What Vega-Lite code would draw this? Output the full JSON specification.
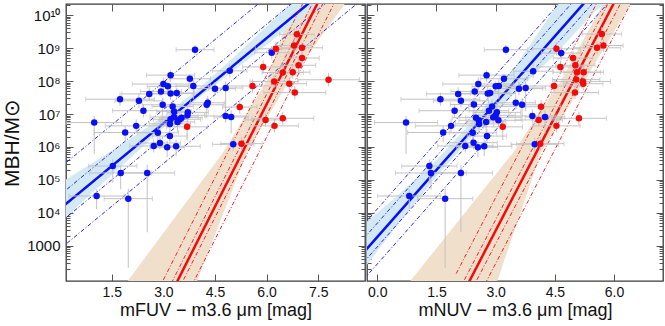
{
"$schema": "https://vega.github.io/schema/vega-lite/v6.json",
"padding": {"left": 0, "top": 2, "right": 0, "bottom": 0},
"spacing": 2,
"bounds": "flush",
"config": {
  "view": {"stroke": "#3a3a3a", "strokeWidth": 1.3},
  "font": "Liberation Sans",
  "axis": {"domain": false, "grid": false, "labelFont": "Liberation Sans", "titleFont": "Liberation Sans", "labelColor": "#111", "titleColor": "#111", "tickColor": "#555", "titleFontWeight": "normal"}
},
"resolve": {"scale": {"x": "independent", "y": "independent"}},
"datasets": {
"lp": [
{"c":"b","x":3.92,"m":8.95,"xl":3.37,"xh":4.47,"ml":8.80,"mh":9.10},
{"c":"b","x":4.93,"m":8.31,"xl":4.43,"xh":5.43,"ml":8.11,"mh":8.51},
{"c":"b","x":3.21,"m":8.18,"xl":2.51,"xh":3.91,"ml":7.98,"mh":8.33},
{"c":"b","x":3.77,"m":8.07,"xl":3.17,"xh":4.37,"ml":7.92,"mh":8.22},
{"c":"b","x":3.00,"m":7.91,"xl":2.10,"xh":3.90,"ml":7.71,"mh":8.11},
{"c":"b","x":3.13,"m":7.84,"xl":2.53,"xh":3.73,"ml":7.69,"mh":7.99},
{"c":"b","x":3.87,"m":7.85,"xl":3.37,"xh":4.37,"ml":7.45,"mh":8.05},
{"c":"b","x":2.59,"m":7.61,"xl":1.79,"xh":3.39,"ml":7.41,"mh":7.81},
{"c":"b","x":2.93,"m":7.68,"xl":2.33,"xh":3.53,"ml":7.53,"mh":7.83},
{"c":"b","x":3.21,"m":7.62,"xl":2.51,"xh":3.91,"ml":7.42,"mh":7.82},
{"c":"b","x":3.39,"m":7.64,"xl":2.89,"xh":3.89,"ml":7.49,"mh":7.79},
{"c":"b","x":4.50,"m":7.77,"xl":3.90,"xh":5.10,"ml":7.57,"mh":7.97},
{"c":"b","x":4.81,"m":7.79,"xl":4.31,"xh":5.31,"ml":7.09,"mh":7.99},
{"c":"b","x":1.74,"m":7.45,"xl":0.74,"xh":2.74,"ml":7.25,"mh":7.65},
{"c":"b","x":2.29,"m":7.40,"xl":1.59,"xh":2.99,"ml":7.20,"mh":7.60},
{"c":"b","x":2.98,"m":7.28,"xl":2.38,"xh":3.58,"ml":6.78,"mh":7.48},
{"c":"b","x":3.27,"m":7.23,"xl":2.67,"xh":3.87,"ml":7.03,"mh":7.43},
{"c":"b","x":4.29,"m":7.34,"xl":3.79,"xh":4.79,"ml":7.14,"mh":7.54},
{"c":"b","x":4.26,"m":7.28,"xl":3.76,"xh":4.76,"ml":6.88,"mh":7.48},
{"c":"b","x":2.42,"m":7.10,"xl":1.52,"xh":3.32,"ml":6.90,"mh":7.30},
{"c":"b","x":3.31,"m":7.08,"xl":2.81,"xh":3.81,"ml":6.88,"mh":7.28},
{"c":"b","x":3.71,"m":7.05,"xl":3.11,"xh":4.31,"ml":6.85,"mh":7.25},
{"c":"b","x":3.70,"m":6.96,"xl":3.20,"xh":4.20,"ml":6.76,"mh":7.16},
{"c":"b","x":3.31,"m":6.91,"xl":2.61,"xh":4.01,"ml":6.61,"mh":7.11},
{"c":"b","x":3.53,"m":6.89,"xl":2.93,"xh":4.13,"ml":6.69,"mh":7.09},
{"c":"b","x":3.21,"m":6.84,"xl":2.71,"xh":3.71,"ml":6.64,"mh":7.04},
{"c":"b","x":3.48,"m":6.84,"xl":2.88,"xh":4.08,"ml":6.64,"mh":7.04},
{"c":"b","x":3.41,"m":6.76,"xl":2.91,"xh":3.91,"ml":6.46,"mh":6.96},
{"c":"b","x":4.81,"m":6.94,"xl":4.21,"xh":5.41,"ml":6.74,"mh":7.14},
{"c":"b","x":4.97,"m":6.91,"xl":4.47,"xh":5.47,"ml":6.41,"mh":7.11},
{"c":"b","x":0.99,"m":6.74,"xl":0.19,"xh":1.79,"ml":5.79,"mh":6.94},
{"c":"b","x":2.21,"m":6.64,"xl":1.31,"xh":3.11,"ml":6.44,"mh":6.84},
{"c":"b","x":3.19,"m":6.70,"xl":2.59,"xh":3.79,"ml":6.50,"mh":6.90},
{"c":"b","x":1.89,"m":6.44,"xl":0.99,"xh":2.79,"ml":6.14,"mh":6.64},
{"c":"b","x":2.84,"m":6.43,"xl":2.24,"xh":3.44,"ml":6.03,"mh":6.63},
{"c":"b","x":3.19,"m":6.33,"xl":2.69,"xh":3.69,"ml":6.13,"mh":6.53},
{"c":"b","x":2.72,"m":6.03,"xl":2.02,"xh":3.42,"ml":5.83,"mh":6.23},
{"c":"b","x":2.90,"m":6.12,"xl":2.30,"xh":3.50,"ml":5.92,"mh":6.32},
{"c":"b","x":3.11,"m":5.99,"xl":2.61,"xh":3.61,"ml":5.69,"mh":6.19},
{"c":"b","x":3.37,"m":6.02,"xl":2.67,"xh":4.07,"ml":5.72,"mh":6.22},
{"c":"b","x":5.03,"m":6.08,"xl":4.43,"xh":5.63,"ml":5.88,"mh":6.28},
{"c":"b","x":1.53,"m":5.42,"xl":0.83,"xh":2.23,"ml":4.92,"mh":5.62},
{"c":"b","x":1.76,"m":5.21,"xl":0.86,"xh":2.66,"ml":4.71,"mh":5.41},
{"c":"b","x":2.53,"m":5.21,"xl":1.73,"xh":3.33,"ml":3.41,"mh":5.46},
{"c":"b","x":1.06,"m":4.51,"xl":0.26,"xh":1.86,"ml":4.11,"mh":4.71},
{"c":"b","x":1.98,"m":4.43,"xl":1.28,"xh":2.68,"ml":2.33,"mh":4.73},
{"c":"b","x":6.15,"m":8.86,"xl":5.65,"xh":6.65,"ml":8.66,"mh":9.06},
{"c":"r","x":6.88,"m":9.42,"xl":6.38,"xh":7.38,"ml":9.22,"mh":9.62},
{"c":"r","x":6.27,"m":8.98,"xl":5.67,"xh":6.87,"ml":8.78,"mh":9.18},
{"c":"r","x":6.80,"m":9.08,"xl":6.30,"xh":7.30,"ml":8.88,"mh":9.28},
{"c":"r","x":7.03,"m":9.01,"xl":6.43,"xh":7.63,"ml":8.81,"mh":9.21},
{"c":"r","x":7.03,"m":8.70,"xl":6.53,"xh":7.53,"ml":8.50,"mh":8.90},
{"c":"r","x":6.93,"m":8.48,"xl":6.43,"xh":7.43,"ml":8.28,"mh":8.68},
{"c":"r","x":5.90,"m":8.43,"xl":5.30,"xh":6.50,"ml":8.23,"mh":8.63},
{"c":"r","x":6.47,"m":8.26,"xl":5.87,"xh":7.07,"ml":8.06,"mh":8.46},
{"c":"r","x":6.76,"m":8.27,"xl":6.26,"xh":7.26,"ml":8.07,"mh":8.47},
{"c":"r","x":6.22,"m":7.99,"xl":5.52,"xh":6.92,"ml":7.79,"mh":8.19},
{"c":"r","x":6.66,"m":7.92,"xl":6.16,"xh":7.16,"ml":7.72,"mh":8.12},
{"c":"r","x":7.80,"m":8.04,"xl":6.90,"xh":8.70,"ml":7.84,"mh":8.24},
{"c":"r","x":5.59,"m":7.85,"xl":4.89,"xh":6.29,"ml":7.65,"mh":8.05},
{"c":"r","x":6.82,"m":7.65,"xl":5.92,"xh":7.72,"ml":7.45,"mh":7.85},
{"c":"r","x":5.22,"m":7.21,"xl":4.72,"xh":5.72,"ml":7.01,"mh":7.41},
{"c":"r","x":5.97,"m":6.82,"xl":5.37,"xh":6.57,"ml":6.62,"mh":7.02},
{"c":"r","x":6.47,"m":6.87,"xl":5.57,"xh":7.37,"ml":6.67,"mh":7.07},
{"c":"r","x":6.23,"m":6.64,"xl":5.53,"xh":6.93,"ml":6.44,"mh":6.84},
{"c":"r","x":3.69,"m":6.61,"xl":3.09,"xh":4.29,"ml":6.21,"mh":6.81},
{"c":"r","x":5.27,"m":6.10,"xl":4.67,"xh":5.87,"ml":5.90,"mh":6.30}
],
"rp": [
{"c":"b","x":3.26,"m":8.95,"xl":2.71,"xh":3.81,"ml":8.80,"mh":9.10},
{"c":"b","x":3.95,"m":8.30,"xl":3.45,"xh":4.45,"ml":8.10,"mh":8.50},
{"c":"b","x":2.77,"m":8.18,"xl":2.07,"xh":3.47,"ml":7.98,"mh":8.33},
{"c":"b","x":3.21,"m":8.07,"xl":2.61,"xh":3.81,"ml":7.92,"mh":8.22},
{"c":"b","x":2.56,"m":7.91,"xl":1.66,"xh":3.46,"ml":7.71,"mh":8.11},
{"c":"b","x":3.00,"m":7.84,"xl":2.40,"xh":3.60,"ml":7.69,"mh":7.99},
{"c":"b","x":3.08,"m":7.85,"xl":2.58,"xh":3.58,"ml":7.45,"mh":8.05},
{"c":"b","x":2.05,"m":7.61,"xl":1.25,"xh":2.85,"ml":7.41,"mh":7.81},
{"c":"b","x":2.47,"m":7.68,"xl":1.87,"xh":3.07,"ml":7.53,"mh":7.83},
{"c":"b","x":2.80,"m":7.62,"xl":2.10,"xh":3.50,"ml":7.42,"mh":7.82},
{"c":"b","x":2.86,"m":7.64,"xl":2.36,"xh":3.36,"ml":7.49,"mh":7.79},
{"c":"b","x":3.59,"m":7.77,"xl":2.99,"xh":4.19,"ml":7.57,"mh":7.97},
{"c":"b","x":3.76,"m":7.79,"xl":3.26,"xh":4.26,"ml":7.09,"mh":7.99},
{"c":"b","x":1.60,"m":7.45,"xl":0.60,"xh":2.60,"ml":7.25,"mh":7.65},
{"c":"b","x":2.12,"m":7.40,"xl":1.42,"xh":2.82,"ml":7.20,"mh":7.60},
{"c":"b","x":2.45,"m":7.29,"xl":1.85,"xh":3.05,"ml":6.79,"mh":7.49},
{"c":"b","x":2.91,"m":7.23,"xl":2.31,"xh":3.51,"ml":7.03,"mh":7.43},
{"c":"b","x":3.51,"m":7.34,"xl":3.01,"xh":4.01,"ml":7.14,"mh":7.54},
{"c":"b","x":3.67,"m":7.28,"xl":3.17,"xh":4.17,"ml":6.88,"mh":7.48},
{"c":"b","x":1.96,"m":7.10,"xl":1.06,"xh":2.86,"ml":6.90,"mh":7.30},
{"c":"b","x":2.83,"m":7.10,"xl":2.33,"xh":3.33,"ml":6.90,"mh":7.30},
{"c":"b","x":3.03,"m":7.05,"xl":2.43,"xh":3.63,"ml":6.85,"mh":7.25},
{"c":"b","x":3.00,"m":6.96,"xl":2.50,"xh":3.50,"ml":6.76,"mh":7.16},
{"c":"b","x":2.94,"m":6.90,"xl":2.24,"xh":3.64,"ml":6.60,"mh":7.10},
{"c":"b","x":2.50,"m":6.89,"xl":1.90,"xh":3.10,"ml":6.69,"mh":7.09},
{"c":"b","x":2.57,"m":6.81,"xl":2.07,"xh":3.07,"ml":6.61,"mh":7.01},
{"c":"b","x":3.07,"m":6.81,"xl":2.47,"xh":3.67,"ml":6.61,"mh":7.01},
{"c":"b","x":2.76,"m":6.76,"xl":2.26,"xh":3.26,"ml":6.46,"mh":6.96},
{"c":"b","x":3.93,"m":6.94,"xl":3.33,"xh":4.53,"ml":6.74,"mh":7.14},
{"c":"b","x":4.25,"m":6.91,"xl":3.75,"xh":4.75,"ml":6.41,"mh":7.11},
{"c":"b","x":0.73,"m":6.74,"xl":-0.07,"xh":1.53,"ml":5.79,"mh":6.94},
{"c":"b","x":1.87,"m":6.64,"xl":0.97,"xh":2.77,"ml":6.44,"mh":6.84},
{"c":"b","x":2.58,"m":6.70,"xl":1.98,"xh":3.18,"ml":6.50,"mh":6.90},
{"c":"b","x":1.67,"m":6.44,"xl":0.77,"xh":2.57,"ml":6.14,"mh":6.64},
{"c":"b","x":2.42,"m":6.43,"xl":1.82,"xh":3.02,"ml":6.03,"mh":6.63},
{"c":"b","x":2.78,"m":6.33,"xl":2.28,"xh":3.28,"ml":6.13,"mh":6.53},
{"c":"b","x":2.23,"m":6.03,"xl":1.53,"xh":2.93,"ml":5.83,"mh":6.23},
{"c":"b","x":2.44,"m":6.13,"xl":1.84,"xh":3.04,"ml":5.93,"mh":6.33},
{"c":"b","x":2.55,"m":5.99,"xl":2.05,"xh":3.05,"ml":5.69,"mh":6.19},
{"c":"b","x":2.71,"m":6.02,"xl":2.01,"xh":3.41,"ml":5.72,"mh":6.22},
{"c":"b","x":3.99,"m":6.08,"xl":3.39,"xh":4.59,"ml":5.88,"mh":6.28},
{"c":"b","x":1.32,"m":5.42,"xl":0.62,"xh":2.02,"ml":4.92,"mh":5.62},
{"c":"b","x":1.36,"m":5.21,"xl":0.46,"xh":2.26,"ml":4.71,"mh":5.41},
{"c":"b","x":2.12,"m":5.21,"xl":1.32,"xh":2.92,"ml":3.41,"mh":5.46},
{"c":"b","x":0.81,"m":4.51,"xl":0.01,"xh":1.61,"ml":4.11,"mh":4.71},
{"c":"b","x":1.72,"m":4.43,"xl":1.02,"xh":2.42,"ml":2.33,"mh":4.73},
{"c":"b","x":4.66,"m":8.85,"xl":4.16,"xh":5.16,"ml":8.65,"mh":9.05},
{"c":"r","x":5.69,"m":9.43,"xl":5.19,"xh":6.19,"ml":9.23,"mh":9.63},
{"c":"r","x":4.54,"m":8.98,"xl":3.94,"xh":5.14,"ml":8.78,"mh":9.18},
{"c":"r","x":5.73,"m":9.08,"xl":5.23,"xh":6.23,"ml":8.88,"mh":9.28},
{"c":"r","x":5.57,"m":9.01,"xl":4.97,"xh":6.17,"ml":8.81,"mh":9.21},
{"c":"r","x":4.96,"m":8.70,"xl":4.46,"xh":5.46,"ml":8.50,"mh":8.90},
{"c":"r","x":5.02,"m":8.48,"xl":4.52,"xh":5.52,"ml":8.28,"mh":8.68},
{"c":"r","x":4.64,"m":8.43,"xl":4.04,"xh":5.24,"ml":8.23,"mh":8.63},
{"c":"r","x":5.06,"m":8.27,"xl":4.46,"xh":5.66,"ml":8.07,"mh":8.47},
{"c":"r","x":5.23,"m":8.27,"xl":4.73,"xh":5.73,"ml":8.07,"mh":8.47},
{"c":"r","x":5.21,"m":7.99,"xl":4.51,"xh":5.91,"ml":7.79,"mh":8.19},
{"c":"r","x":5.22,"m":7.92,"xl":4.72,"xh":5.72,"ml":7.72,"mh":8.12},
{"c":"r","x":5.04,"m":8.05,"xl":4.44,"xh":5.64,"ml":7.85,"mh":8.25},
{"c":"r","x":4.48,"m":7.85,"xl":3.78,"xh":5.18,"ml":7.65,"mh":8.05},
{"c":"r","x":5.01,"m":7.65,"xl":4.41,"xh":5.61,"ml":7.45,"mh":7.85},
{"c":"r","x":4.15,"m":7.22,"xl":3.65,"xh":4.65,"ml":7.02,"mh":7.42},
{"c":"r","x":4.09,"m":6.82,"xl":3.49,"xh":4.69,"ml":6.62,"mh":7.02},
{"c":"r","x":5.11,"m":6.87,"xl":4.41,"xh":5.81,"ml":6.67,"mh":7.07},
{"c":"r","x":4.54,"m":6.64,"xl":3.94,"xh":5.14,"ml":6.44,"mh":6.84},
{"c":"r","x":3.18,"m":6.61,"xl":2.68,"xh":3.68,"ml":6.21,"mh":6.81},
{"c":"r","x":4.13,"m":6.10,"xl":3.53,"xh":4.73,"ml":5.90,"mh":6.30}
],
"lband": [
{"x":0,"lo":3.70,"hi":4.90},{"x":1,"lo":4.68,"hi":5.55},{"x":2,"lo":5.63,"hi":6.22},{"x":3,"lo":6.58,"hi":6.93},{"x":4,"lo":7.47,"hi":7.75},{"x":5,"lo":8.28,"hi":8.68},{"x":6,"lo":9.10,"hi":9.66},{"x":7,"lo":9.93,"hi":10.62},{"x":8,"lo":10.75,"hi":11.6}
],
"rband": [
{"x":-0.5,"lo":2.05,"hi":3.50},{"x":0.5,"lo":3.62,"hi":4.50},{"x":1.5,"lo":5.10,"hi":5.60},{"x":2.5,"lo":6.45,"hi":6.90},{"x":3.5,"lo":7.65,"hi":8.45},{"x":4.5,"lo":8.80,"hi":10.20},{"x":5.5,"lo":10.10,"hi":11.9},{"x":6.5,"lo":11.0,"hi":13.6}
],
"ltan": [
{"m":1.5,"xlo":1.66,"xhi":3.82},{"m":5.84,"xlo":4.74,"xhi":5.43},{"m":8.0,"xlo":6.0,"xhi":6.65},{"m":10.6,"xlo":6.84,"xhi":8.45}
],
"rtan": [
{"m":1.5,"xlo":0.55,"xhi":2.92},{"m":5.84,"xlo":3.45,"xhi":4.15},{"m":8.0,"xlo":4.65,"xhi":5.25},{"m":10.6,"xlo":5.84,"xhi":6.54}
],
"llines": [
{"g":"bf","c":"b","s":"fit","x":0,"m":4.125},{"g":"bf","c":"b","s":"fit","x":9,"m":11.892},
{"g":"bo1","c":"b","s":"dash","x":0,"m":5.375},{"g":"bo1","c":"b","s":"dash","x":9,"m":13.142},
{"g":"bi1","c":"b","s":"dash","x":0,"m":4.545},{"g":"bi1","c":"b","s":"dash","x":9,"m":12.312},
{"g":"bi2","c":"b","s":"dash","x":0,"m":3.705},{"g":"bi2","c":"b","s":"dash","x":9,"m":11.472},
{"g":"bo2","c":"b","s":"dash","x":0,"m":2.905},{"g":"bo2","c":"b","s":"dash","x":9,"m":10.672},
{"g":"rf","c":"r","s":"fit","x":3,"m":1.083},{"g":"rf","c":"r","s":"fit","x":8,"m":11.438},
{"g":"ro1","c":"r","s":"dash","x":3,"m":1.963},{"g":"ro1","c":"r","s":"dash","x":8,"m":12.318},
{"g":"ri1","c":"r","s":"dash","x":3,"m":1.383},{"g":"ri1","c":"r","s":"dash","x":8,"m":11.738},
{"g":"ri2","c":"r","s":"dash","x":3,"m":0.753},{"g":"ri2","c":"r","s":"dash","x":8,"m":11.108},
{"g":"ro2","c":"r","s":"dash","x":3,"m":0.083},{"g":"ro2","c":"r","s":"dash","x":8,"m":10.438}
],
"rlines": [
{"g":"bf","c":"b","s":"fit","x":-0.5,"m":2.588},{"g":"bf","c":"b","s":"fit","x":6.5,"m":12.073},
{"g":"bo1","c":"b","s":"dash","x":-0.5,"m":3.438},{"g":"bo1","c":"b","s":"dash","x":6.5,"m":12.923},
{"g":"bi1","c":"b","s":"dash","x":-0.5,"m":3.008},{"g":"bi1","c":"b","s":"dash","x":6.5,"m":12.493},
{"g":"bi2","c":"b","s":"dash","x":-0.5,"m":2.288},{"g":"bi2","c":"b","s":"dash","x":6.5,"m":11.773},
{"g":"bo2","c":"b","s":"dash","x":-0.5,"m":1.768},{"g":"bo2","c":"b","s":"dash","x":6.5,"m":11.253},
{"g":"rf","c":"r","s":"fit","x":2,"m":1.154},{"g":"rf","c":"r","s":"fit","x":7,"m":12.684},
{"g":"ro1","c":"r","s":"dash","x":2,"m":2.154},{"g":"ro1","c":"r","s":"dash","x":7,"m":13.684},
{"g":"ri1","c":"r","s":"dash","x":2,"m":1.484},{"g":"ri1","c":"r","s":"dash","x":7,"m":13.014},
{"g":"ri2","c":"r","s":"dash","x":2,"m":0.754},{"g":"ri2","c":"r","s":"dash","x":7,"m":12.284},
{"g":"ro2","c":"r","s":"dash","x":2,"m":0.154},{"g":"ro2","c":"r","s":"dash","x":7,"m":11.684}
]
},
"hconcat": [
{
"width": 299, "height": 277,
"resolve": {"axis": {"x": "independent", "y": "independent"}},
"layer": [
{"data": {"name": "ltan"}, "mark": {"type": "area", "orient": "horizontal", "color": "#f0dfcb", "clip": true},
 "encoding": {
  "y": {"field": "m", "type": "quantitative", "scale": {"domain": [1.93, 10.34], "nice": false, "zero": false}, "axis": {"orient": "right", "values": [3,4,5,6,7,8,9,10], "labels": false, "tickSize": -7, "title": null}},
  "x": {"field": "xlo", "type": "quantitative", "scale": {"domain": [0.17, 8.86], "nice": false, "zero": false}, "axis": {"orient": "top", "values": [1.5,3,4.5,6,7.5], "labels": false, "tickSize": -7, "title": null}},
  "x2": {"field": "xhi"}}},
{"data": {"name": "lband"}, "mark": {"type": "area", "color": "#d3e9f3", "clip": true},
 "encoding": {
  "x": {"field": "x", "type": "quantitative", "scale": {"domain": [0.17, 8.86], "nice": false, "zero": false}, "axis": null},
  "y": {"field": "lo", "type": "quantitative", "scale": {"domain": [1.93, 10.34], "nice": false, "zero": false}, "axis": {"orient": "right", "values": [2.301,2.477,2.602,2.699,2.778,2.845,2.903,2.954,3.301,3.477,3.602,3.699,3.778,3.845,3.903,3.954,4.301,4.477,4.602,4.699,4.778,4.845,4.903,4.954,5.301,5.477,5.602,5.699,5.778,5.845,5.903,5.954,6.301,6.477,6.602,6.699,6.778,6.845,6.903,6.954,7.301,7.477,7.602,7.699,7.778,7.845,7.903,7.954,8.301,8.477,8.602,8.699,8.778,8.845,8.903,8.954,9.301,9.477,9.602,9.699,9.778,9.845,9.903,9.954,10.301], "labels": false, "tickSize": -4, "title": null}},
  "y2": {"field": "hi"}}},
{"data": {"name": "llines"}, "mark": {"type": "line", "clip": true},
 "encoding": {
  "x": {"field": "x", "type": "quantitative", "scale": {"domain": [0.17, 8.86], "nice": false, "zero": false}, "axis": null},
  "y": {"field": "m", "type": "quantitative", "scale": {"domain": [1.93, 10.34], "nice": false, "zero": false}, "axis": {"orient": "left", "values": [2.301,2.477,2.602,2.699,2.778,2.845,2.903,2.954,3.301,3.477,3.602,3.699,3.778,3.845,3.903,3.954,4.301,4.477,4.602,4.699,4.778,4.845,4.903,4.954,5.301,5.477,5.602,5.699,5.778,5.845,5.903,5.954,6.301,6.477,6.602,6.699,6.778,6.845,6.903,6.954,7.301,7.477,7.602,7.699,7.778,7.845,7.903,7.954,8.301,8.477,8.602,8.699,8.778,8.845,8.903,8.954,9.301,9.477,9.602,9.699,9.778,9.845,9.903,9.954,10.301], "labels": false, "tickSize": -4, "title": null}},
  "detail": {"field": "g"},
  "color": {"field": "c", "type": "nominal", "scale": {"domain": ["b","r"], "range": ["#0a10f5","#f50a0a"]}, "legend": null},
  "strokeDash": {"field": "s", "type": "nominal", "scale": {"domain": ["fit","dash"], "range": [[1,0],[4,2,1,2]]}, "legend": null},
  "strokeWidth": {"field": "s", "type": "nominal", "scale": {"domain": ["fit","dash"], "range": [2.5,0.9]}, "legend": null}}},
{"data": {"name": "lp"}, "mark": {"type": "rule", "color": "#c2c2c2", "strokeWidth": 1, "clip": true},
 "encoding": {
  "x": {"field": "xl", "type": "quantitative", "scale": {"domain": [0.17, 8.86], "nice": false, "zero": false}, "axis": null},
  "x2": {"field": "xh"},
  "y": {"field": "m", "type": "quantitative", "scale": {"domain": [1.93, 10.34], "nice": false, "zero": false}, "axis": null}}},
{"data": {"name": "lp"}, "mark": {"type": "rule", "color": "#c2c2c2", "strokeWidth": 1, "clip": true},
 "encoding": {
  "x": {"field": "x", "type": "quantitative", "scale": {"domain": [0.17, 8.86], "nice": false, "zero": false}, "axis": null},
  "y": {"field": "ml", "type": "quantitative", "scale": {"domain": [1.93, 10.34], "nice": false, "zero": false}, "axis": null},
  "y2": {"field": "mh"}}},
{"data": {"name": "lp"}, "mark": {"type": "tick", "orient": "vertical", "size": 5, "thickness": 1, "color": "#c2c2c2", "clip": true},
 "encoding": {
  "x": {"field": "xl", "type": "quantitative", "scale": {"domain": [0.17, 8.86], "nice": false, "zero": false}, "axis": null},
  "y": {"field": "m", "type": "quantitative", "scale": {"domain": [1.93, 10.34], "nice": false, "zero": false}, "axis": null}}},
{"data": {"name": "lp"}, "mark": {"type": "tick", "orient": "vertical", "size": 5, "thickness": 1, "color": "#c2c2c2", "clip": true},
 "encoding": {
  "x": {"field": "xh", "type": "quantitative", "scale": {"domain": [0.17, 8.86], "nice": false, "zero": false}, "axis": null},
  "y": {"field": "m", "type": "quantitative", "scale": {"domain": [1.93, 10.34], "nice": false, "zero": false}, "axis": null}}},
{"data": {"name": "lp"}, "mark": {"type": "circle", "size": 42, "opacity": 1},
 "encoding": {
  "x": {"field": "x", "type": "quantitative", "scale": {"domain": [0.17, 8.86], "nice": false, "zero": false}, "axis": {"orient": "bottom", "values": [1.5,3,4.5,6,7.5], "format": ".1f", "tickSize": -7, "labelPadding": 11, "labelFontSize": 14, "title": "mFUV − m3.6 μm  [mag]", "titleFontSize": 18, "titlePadding": 2}},
  "y": {"field": "m", "type": "quantitative", "scale": {"domain": [1.93, 10.34], "nice": false, "zero": false}, "axis": {"orient": "left", "values": [3,4,5,6,7,8,9,10], "tickSize": -7, "labelPadding": 13, "labelFontSize": 15, "labelExpr": "datum.value == 3 ? '1000' : datum.value == 4 ? '10⁴' : datum.value == 5 ? '10⁵' : datum.value == 6 ? '10⁶' : datum.value == 7 ? '10⁷' : datum.value == 8 ? '10⁸' : datum.value == 9 ? '10⁹' : '10¹⁰'", "title": "MBH/M⊙", "titleFontSize": 21, "titlePadding": 4}},
  "color": {"field": "c", "type": "nominal", "scale": {"domain": ["b","r"], "range": ["#0a10f5","#f50a0a"]}, "legend": null}}}
]
},
{
"width": 296, "height": 277,
"resolve": {"axis": {"x": "independent", "y": "independent"}},
"layer": [
{"data": {"name": "rtan"}, "mark": {"type": "area", "orient": "horizontal", "color": "#f0dfcb", "clip": true},
 "encoding": {
  "y": {"field": "m", "type": "quantitative", "scale": {"domain": [1.93, 10.34], "nice": false, "zero": false}, "axis": {"orient": "right", "values": [3,4,5,6,7,8,9,10], "labels": false, "tickSize": -7, "title": null}},
  "x": {"field": "xlo", "type": "quantitative", "scale": {"domain": [-0.26, 7.24], "nice": false, "zero": false}, "axis": {"orient": "top", "values": [0,1.5,3,4.5,6], "labels": false, "tickSize": -7, "title": null}},
  "x2": {"field": "xhi"}}},
{"data": {"name": "rband"}, "mark": {"type": "area", "color": "#d3e9f3", "clip": true},
 "encoding": {
  "x": {"field": "x", "type": "quantitative", "scale": {"domain": [-0.26, 7.24], "nice": false, "zero": false}, "axis": null},
  "y": {"field": "lo", "type": "quantitative", "scale": {"domain": [1.93, 10.34], "nice": false, "zero": false}, "axis": {"orient": "right", "values": [2.301,2.477,2.602,2.699,2.778,2.845,2.903,2.954,3.301,3.477,3.602,3.699,3.778,3.845,3.903,3.954,4.301,4.477,4.602,4.699,4.778,4.845,4.903,4.954,5.301,5.477,5.602,5.699,5.778,5.845,5.903,5.954,6.301,6.477,6.602,6.699,6.778,6.845,6.903,6.954,7.301,7.477,7.602,7.699,7.778,7.845,7.903,7.954,8.301,8.477,8.602,8.699,8.778,8.845,8.903,8.954,9.301,9.477,9.602,9.699,9.778,9.845,9.903,9.954,10.301], "labels": false, "tickSize": -4, "title": null}},
  "y2": {"field": "hi"}}},
{"data": {"name": "rlines"}, "mark": {"type": "line", "clip": true},
 "encoding": {
  "x": {"field": "x", "type": "quantitative", "scale": {"domain": [-0.26, 7.24], "nice": false, "zero": false}, "axis": null},
  "y": {"field": "m", "type": "quantitative", "scale": {"domain": [1.93, 10.34], "nice": false, "zero": false}, "axis": {"orient": "left", "values": [2.301,2.477,2.602,2.699,2.778,2.845,2.903,2.954,3.301,3.477,3.602,3.699,3.778,3.845,3.903,3.954,4.301,4.477,4.602,4.699,4.778,4.845,4.903,4.954,5.301,5.477,5.602,5.699,5.778,5.845,5.903,5.954,6.301,6.477,6.602,6.699,6.778,6.845,6.903,6.954,7.301,7.477,7.602,7.699,7.778,7.845,7.903,7.954,8.301,8.477,8.602,8.699,8.778,8.845,8.903,8.954,9.301,9.477,9.602,9.699,9.778,9.845,9.903,9.954,10.301], "labels": false, "tickSize": -4, "title": null}},
  "detail": {"field": "g"},
  "color": {"field": "c", "type": "nominal", "scale": {"domain": ["b","r"], "range": ["#0a10f5","#f50a0a"]}, "legend": null},
  "strokeDash": {"field": "s", "type": "nominal", "scale": {"domain": ["fit","dash"], "range": [[1,0],[4,2,1,2]]}, "legend": null},
  "strokeWidth": {"field": "s", "type": "nominal", "scale": {"domain": ["fit","dash"], "range": [2.5,0.9]}, "legend": null}}},
{"data": {"name": "rp"}, "mark": {"type": "rule", "color": "#c2c2c2", "strokeWidth": 1, "clip": true},
 "encoding": {
  "x": {"field": "xl", "type": "quantitative", "scale": {"domain": [-0.26, 7.24], "nice": false, "zero": false}, "axis": null},
  "x2": {"field": "xh"},
  "y": {"field": "m", "type": "quantitative", "scale": {"domain": [1.93, 10.34], "nice": false, "zero": false}, "axis": null}}},
{"data": {"name": "rp"}, "mark": {"type": "rule", "color": "#c2c2c2", "strokeWidth": 1, "clip": true},
 "encoding": {
  "x": {"field": "x", "type": "quantitative", "scale": {"domain": [-0.26, 7.24], "nice": false, "zero": false}, "axis": null},
  "y": {"field": "ml", "type": "quantitative", "scale": {"domain": [1.93, 10.34], "nice": false, "zero": false}, "axis": null},
  "y2": {"field": "mh"}}},
{"data": {"name": "rp"}, "mark": {"type": "tick", "orient": "vertical", "size": 5, "thickness": 1, "color": "#c2c2c2", "clip": true},
 "encoding": {
  "x": {"field": "xl", "type": "quantitative", "scale": {"domain": [-0.26, 7.24], "nice": false, "zero": false}, "axis": null},
  "y": {"field": "m", "type": "quantitative", "scale": {"domain": [1.93, 10.34], "nice": false, "zero": false}, "axis": null}}},
{"data": {"name": "rp"}, "mark": {"type": "tick", "orient": "vertical", "size": 5, "thickness": 1, "color": "#c2c2c2", "clip": true},
 "encoding": {
  "x": {"field": "xh", "type": "quantitative", "scale": {"domain": [-0.26, 7.24], "nice": false, "zero": false}, "axis": null},
  "y": {"field": "m", "type": "quantitative", "scale": {"domain": [1.93, 10.34], "nice": false, "zero": false}, "axis": null}}},
{"data": {"name": "rp"}, "mark": {"type": "circle", "size": 42, "opacity": 1},
 "encoding": {
  "x": {"field": "x", "type": "quantitative", "scale": {"domain": [-0.26, 7.24], "nice": false, "zero": false}, "axis": {"orient": "bottom", "values": [0,1.5,3,4.5,6], "format": ".1f", "tickSize": -7, "labelPadding": 11, "labelFontSize": 14, "title": "mNUV − m3.6 μm  [mag]", "titleFontSize": 18, "titlePadding": 2}},
  "y": {"field": "m", "type": "quantitative", "scale": {"domain": [1.93, 10.34], "nice": false, "zero": false}, "axis": {"orient": "left", "values": [3,4,5,6,7,8,9,10], "labels": false, "tickSize": -7, "title": null}},
  "color": {"field": "c", "type": "nominal", "scale": {"domain": ["b","r"], "range": ["#0a10f5","#f50a0a"]}, "legend": null}}}
]
}
]
}
